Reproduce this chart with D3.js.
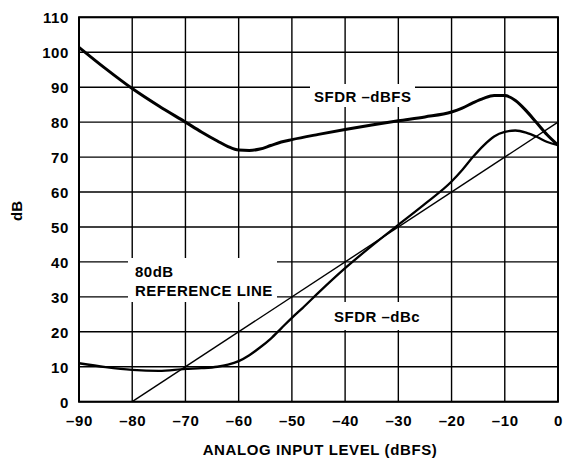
<!DOCTYPE html>
<html>
<head>
<meta charset="utf-8">
<script src="https://cdn.jsdelivr.net/npm/d3@7/dist/d3.min.js"></script>
<style>
  html, body { margin: 0; padding: 0; background: #fff; }
  svg { display: block; }
  text { font-family: "Liberation Sans", Arial, sans-serif; font-weight: bold; fill: #000; }
</style>
</head>
<body>
<svg id="chart" width="572" height="465"></svg>
<script>
// ---- data ----
const xTicks = [-90, -80, -70, -60, -50, -40, -30, -20, -10, 0];
const yTicks = [0, 10, 20, 30, 40, 50, 60, 70, 80, 90, 100, 110];

const dbfsX = [-90, -85, -80, -75, -70, -67, -64, -62, -60, -58, -56, -54, -52, -50, -45, -40, -35, -30, -25, -20, -18, -16, -14, -12, -10, -8, -6, -4, -2, 0];
const dbfsY = [101.4, 95.3, 89.6, 84.6, 80.0, 77.2, 74.6, 73.0, 72.0, 71.9, 72.3, 73.3, 74.3, 75.0, 76.5, 77.9, 79.2, 80.4, 81.5, 82.9, 84.0, 85.5, 86.8, 87.6, 87.6, 86.2, 83.3, 79.8, 76.3, 73.4];

const dbcX = [-90, -85, -80, -75, -70, -67, -64, -62, -60, -58, -56, -54, -52, -50, -48, -45, -40, -35, -30, -25, -20, -18, -16, -14, -12, -10, -8, -6, -4, -2, 0];
const dbcY = [11.0, 9.9, 9.1, 8.8, 9.4, 9.6, 10.0, 10.6, 11.6, 13.3, 15.5, 18.0, 21.0, 24.0, 26.8, 31.2, 38.2, 44.6, 50.6, 56.6, 63.0, 66.3, 70.0, 73.3, 75.9, 77.2, 77.6, 77.0, 75.8, 74.3, 73.4];

const refX = [-80, 0];
const refY = [0, 80];

const xTickLabels = xTicks.map(v => v < 0 ? "\u2013" + Math.abs(v) : String(v));
const yTickLabels = yTicks.map(v => String(v));

// ---- layout ----
const svg = d3.select("#chart");
const L = 79, R = 558, T = 17.3, B = 401.7;
const x = d3.scaleLinear().domain([-90, 0]).range([L, R]);
const y = d3.scaleLinear().domain([0, 110]).range([B, T]);

// grid
const grid = svg.append("g").attr("stroke", "#000").attr("stroke-width", 1.4);
grid.selectAll("line.v").data(xTicks).join("line")
  .attr("x1", d => x(d)).attr("x2", d => x(d)).attr("y1", T).attr("y2", B);
grid.selectAll("line.h").data(yTicks).join("line")
  .attr("x1", L).attr("x2", R).attr("y1", d => y(d)).attr("y2", d => y(d));

// white label boxes (break the grid)
const boxes = [
  [310, 84, 415, 107],
  [128, 258, 277, 302],
  [326, 302, 426, 330]
];
svg.append("g").selectAll("rect").data(boxes).join("rect")
  .attr("x", d => d[0]).attr("y", d => d[1])
  .attr("width", d => d[2] - d[0]).attr("height", d => d[3] - d[1])
  .attr("fill", "#fff");

// curves
const line = d3.line().x(d => x(d[0])).y(d => y(d[1])).curve(d3.curveMonotoneX);
svg.append("path").datum(refX.map((v, i) => [v, refY[i]]))
  .attr("d", d3.line().x(d => x(d[0])).y(d => y(d[1])))
  .attr("fill", "none").attr("stroke", "#000").attr("stroke-width", 1.4);
svg.append("path").datum(dbcX.map((v, i) => [v, dbcY[i]]))
  .attr("d", line).attr("fill", "none").attr("stroke", "#000").attr("stroke-width", 2.3)
  .attr("stroke-linejoin", "round");
svg.append("path").datum(dbfsX.map((v, i) => [v, dbfsY[i]]))
  .attr("d", line).attr("fill", "none").attr("stroke", "#000").attr("stroke-width", 3)
  .attr("stroke-linejoin", "round");

// frame
svg.append("rect").attr("x", L).attr("y", T).attr("width", R - L).attr("height", B - T)
  .attr("fill", "none").attr("stroke", "#000").attr("stroke-width", 2);

// axes (labels only)
const xAxis = d3.axisBottom(x).tickValues(xTicks).tickSize(0).tickPadding(0)
  .tickFormat((d, i) => xTickLabels[i]);
const gx = svg.append("g").attr("transform", `translate(0,${B})`).call(xAxis);
gx.select(".domain").remove();
gx.selectAll("text").attr("dy", null).attr("y", 24).attr("font-size", 15)
  .attr("letter-spacing", 0.6)
  .attr("font-family", "Liberation Sans, Arial, sans-serif").attr("font-weight", "bold");

const yAxis = d3.axisLeft(y).tickValues(yTicks).tickSize(0).tickPadding(0)
  .tickFormat((d, i) => yTickLabels[i]);
const gy = svg.append("g").attr("transform", `translate(${L - 10},0)`).call(yAxis);
gy.select(".domain").remove();
gy.selectAll("text").attr("dy", "0.36em").attr("font-size", 15)
  .attr("letter-spacing", 0.6)
  .attr("font-family", "Liberation Sans, Arial, sans-serif").attr("font-weight", "bold");

// axis titles
svg.append("text").attr("x", 320).attr("y", 455).attr("text-anchor", "middle")
  .attr("font-size", 15).attr("letter-spacing", 0.6).text("ANALOG INPUT LEVEL (dBFS)");
svg.append("text").attr("transform", "translate(22,211) rotate(-90)").attr("text-anchor", "middle")
  .attr("font-size", 15).text("dB");

// annotations
const ann = svg.append("g").attr("font-size", 15).attr("letter-spacing", 0.5);
ann.append("text").attr("x", 314).attr("y", 101.5).text("SFDR \u2013dBFS");
ann.append("text").attr("x", 135).attr("y", 276.5).text("80dB");
ann.append("text").attr("x", 135).attr("y", 295.5).text("REFERENCE LINE");
ann.append("text").attr("x", 334).attr("y", 322).text("SFDR \u2013dBc");
</script>
</body>
</html>
